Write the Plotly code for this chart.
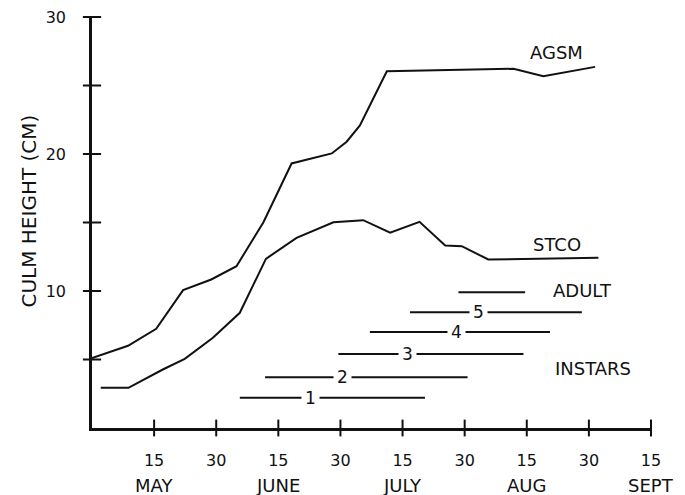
import plotly.graph_objects as go

# ---- data (x in days after 1 May; ticks every 15 days) ----
agsm_x = [0, 8.7, 15.5, 22.0, 28.8, 34.9, 41.4, 48.2, 57.9, 61.5, 64.7, 71.2, 101.8, 109.0, 121.5]
agsm_y = [5.1, 6.0, 7.24, 10.06, 10.84, 11.81, 15.02, 19.31, 20.04, 20.9, 22.08, 26.04, 26.22, 25.68, 26.36]

stco_x = [2.1, 8.8, 17.1, 22.4, 29.2, 35.7, 42.0, 49.4, 58.3, 65.5, 72.0, 79.1, 85.3, 89.3, 95.7, 122.3]
stco_y = [2.93, 2.93, 4.27, 5.05, 6.58, 8.41, 12.35, 13.88, 15.02, 15.17, 14.25, 15.05, 13.32, 13.27, 12.30, 12.42]

instar_labels = ["1", "2", "3", "4", "5"]
instar_start = [35.7, 41.8, 59.5, 67.1, 76.8]
instar_end = [80.4, 90.7, 104.2, 110.6, 118.3]
instar_label_x = [52.7, 60.6, 76.3, 88.1, 93.3]
instar_y = [2.2, 3.7, 5.4, 7.0, 8.45]

adult_start, adult_end, adult_y = 88.5, 104.6, 9.9

x_tickvals = [15, 30, 45, 60, 75, 90, 105, 120, 135]
x_ticktext = ["15", "30", "15", "30", "15", "30", "15", "30", "15"]
month_names = ["MAY", "JUNE", "JULY", "AUG", "SEPT"]
month_x = [15, 45, 75, 105, 135]

y_tickvals = [10, 20, 30]
y_ticktext = ["10", "20", "30"]
y_minor = [5, 10, 15, 20, 25, 30]

series_labels = ["AGSM", "STCO", "ADULT", "INSTARS"]
series_label_x = [112.1, 112.3, 118.4, 121.0]
series_label_y = [27.4, 13.4, 10.06, 4.32]

FONT = "DejaVu Sans"
INK = "#111111"

fig = go.Figure()

fig.add_trace(go.Scatter(x=agsm_x, y=agsm_y, mode="lines",
                         line=dict(color=INK, width=2), cliponaxis=False, hoverinfo="skip"))
fig.add_trace(go.Scatter(x=stco_x, y=stco_y, mode="lines",
                         line=dict(color=INK, width=2), cliponaxis=False, hoverinfo="skip"))

for i in range(len(instar_labels)):
    fig.add_trace(go.Scatter(x=[instar_start[i], instar_end[i]], y=[instar_y[i], instar_y[i]],
                             mode="lines", line=dict(color=INK, width=2), hoverinfo="skip"))
    fig.add_annotation(x=instar_label_x[i], y=instar_y[i], text=instar_labels[i],
                       showarrow=False, bgcolor="white", borderpad=3,
                       font=dict(family=FONT, size=17, color=INK))

fig.add_trace(go.Scatter(x=[adult_start, adult_end], y=[adult_y, adult_y], mode="lines",
                         line=dict(color=INK, width=2), hoverinfo="skip"))

# crossing tick marks on axes
fig.add_trace(go.Scatter(x=x_tickvals, y=[0] * len(x_tickvals), mode="markers",
                         marker=dict(symbol="line-ns", size=12, line=dict(color=INK, width=2)),
                         cliponaxis=False, hoverinfo="skip"))
fig.add_trace(go.Scatter(x=[0] * len(y_minor), y=y_minor, mode="markers",
                         marker=dict(symbol="line-ew", size=13, line=dict(color=INK, width=2)),
                         cliponaxis=False, hoverinfo="skip"))

for t, x, y in zip(series_labels, series_label_x, series_label_y):
    fig.add_annotation(x=x, y=y, text=t, showarrow=False,
                       font=dict(family=FONT, size=18, color=INK))

for t, x in zip(month_names, month_x):
    fig.add_annotation(x=x, y=0, yref="paper", text=t, showarrow=False,
                       yanchor="middle", yshift=-57,
                       font=dict(family=FONT, size=18, color=INK))

fig.add_annotation(x=0, xref="paper", y=15.8, text="CULM HEIGHT (CM)", textangle=-90,
                   showarrow=False, xanchor="center", xshift=-63,
                   font=dict(family=FONT, size=20, color=INK))

# page body adds an 8px offset, so the figure is sized to the visible area
fig.update_layout(
    width=677, height=487,
    margin=dict(l=84, r=34, t=9, b=67, autoexpand=False),
    paper_bgcolor="white", plot_bgcolor="white",
    showlegend=False,
    xaxis=dict(range=[0, 135], showgrid=False, zeroline=False, showline=True,
               linecolor=INK, linewidth=2.5, ticks="", tickvals=x_tickvals,
               ticktext=x_ticktext, ticklabelstandoff=16, automargin=False,
               ticklabeloverflow="allow",
               tickfont=dict(family=FONT, size=16, color=INK)),
    yaxis=dict(range=[0, 30], showgrid=False, zeroline=False, showline=True,
               linecolor=INK, linewidth=2.5, ticks="", tickvals=y_tickvals,
               ticktext=y_ticktext, ticklabelstandoff=20, automargin=False,
               ticklabeloverflow="allow",
               tickfont=dict(family=FONT, size=16, color=INK)),
)

fig.write_html("out.html")
